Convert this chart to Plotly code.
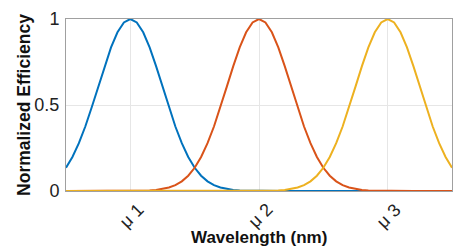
import plotly.graph_objects as go

# Wavelength grid (arbitrary units, peaks at mu1=1, mu2=2, mu3=3)
wavelength = [0.5, 0.55, 0.6, 0.65, 0.7, 0.75, 0.8, 0.85, 0.9, 0.95,
              1.0, 1.05, 1.1, 1.15, 1.2, 1.25, 1.3, 1.35, 1.4, 1.45,
              1.5, 1.55, 1.6, 1.65, 1.7, 1.75, 1.8, 1.85, 1.9, 1.95,
              2.0, 2.05, 2.1, 2.15, 2.2, 2.25, 2.3, 2.35, 2.4, 2.45,
              2.5, 2.55, 2.6, 2.65, 2.7, 2.75, 2.8, 2.85, 2.9, 2.95,
              3.0, 3.05, 3.1, 3.15, 3.2, 3.25, 3.3, 3.35, 3.4, 3.45, 3.5]

eff_mu1 = [0.135, 0.198, 0.278, 0.375, 0.487, 0.607, 0.726, 0.835, 0.923, 0.980,
           1.000, 0.980, 0.923, 0.835, 0.726, 0.607, 0.487, 0.375, 0.278, 0.198,
           0.135, 0.089, 0.056, 0.034, 0.020, 0.011, 0.006, 0.003, 0.002, 0.001,
           0, 0, 0, 0, 0, 0, 0, 0, 0, 0,
           0, 0, 0, 0, 0, 0, 0, 0, 0, 0,
           0, 0, 0, 0, 0, 0, 0, 0, 0, 0, 0]

eff_mu2 = [0, 0, 0, 0, 0, 0, 0, 0, 0, 0,
           0, 0.001, 0.002, 0.003, 0.006, 0.011, 0.020, 0.034, 0.056, 0.089,
           0.135, 0.198, 0.278, 0.375, 0.487, 0.607, 0.726, 0.835, 0.923, 0.980,
           1.000, 0.980, 0.923, 0.835, 0.726, 0.607, 0.487, 0.375, 0.278, 0.198,
           0.135, 0.089, 0.056, 0.034, 0.020, 0.011, 0.006, 0.003, 0.002, 0.001,
           0, 0, 0, 0, 0, 0, 0, 0, 0, 0, 0]

eff_mu3 = [0, 0, 0, 0, 0, 0, 0, 0, 0, 0,
           0, 0, 0, 0, 0, 0, 0, 0, 0, 0,
           0, 0, 0, 0, 0, 0, 0, 0, 0, 0,
           0, 0.001, 0.002, 0.003, 0.006, 0.011, 0.020, 0.034, 0.056, 0.089,
           0.135, 0.198, 0.278, 0.375, 0.487, 0.607, 0.726, 0.835, 0.923, 0.980,
           1.000, 0.980, 0.923, 0.835, 0.726, 0.607, 0.487, 0.375, 0.278, 0.198,
           0.135]

tick_vals = [1, 2, 3]
tick_text = ["\u03bc 1", "\u03bc 2", "\u03bc 3"]
y_ticks = [0, 0.5, 1]
y_text = ["0", "0.5", "1"]
x_title = "Wavelength (nm)"
y_title = "Normalized Efficiency"

colors = ["#0072BD", "#D95319", "#EDB120"]
series = [eff_mu1, eff_mu2, eff_mu3]

fig = go.Figure()
for ys, c in zip(series, colors):
    fig.add_trace(go.Scatter(x=wavelength, y=ys, mode="lines",
                             line=dict(color=c, width=2), cliponaxis=False,
                             showlegend=False))

font = "Liberation Sans, Arial, sans-serif"
fig.update_layout(
    width=474, height=247,
    margin=dict(l=66, r=22, t=19, b=56),
    paper_bgcolor="white", plot_bgcolor="white",
    font=dict(family=font, color="#222"),
)
fig.update_xaxes(
    range=[0.5, 3.5], tickvals=tick_vals, showticklabels=False,
    showgrid=True, gridcolor="#E6E6E6",
    gridwidth=1, showline=True, linecolor="#A0A0A0", linewidth=1, mirror=True,
    zeroline=False, ticks="", automargin=False,
)
fig.update_yaxes(
    range=[0, 1], tickvals=y_ticks, ticktext=y_text,
    tickfont=dict(size=18, color="#222"), showgrid=True, gridcolor="#E6E6E6",
    gridwidth=1, showline=True, linecolor="#A0A0A0", linewidth=1, mirror=True,
    zeroline=False, ticks="", ticklen=0, ticklabelstandoff=2, automargin=False,
)

# rotated x tick labels
for v, t in zip(tick_vals, tick_text):
    fig.add_annotation(x=v, y=-0.145, xref="x", yref="paper", text=t,
                       textangle=-45, showarrow=False, xanchor="center",
                       yanchor="middle", xshift=1,
                       font=dict(size=18, color="#222", family=font))

# axis titles
fig.add_annotation(x=0.5, y=-0.272, xref="paper", yref="paper",
                   text="<b>" + x_title + "</b>", showarrow=False,
                   xanchor="center", yanchor="middle",
                   font=dict(size=17, color="#111", family=font))
fig.add_annotation(x=-0.109, y=0.5, xref="paper", yref="paper",
                   text="<b>" + y_title + "</b>", showarrow=False, textangle=-90,
                   xanchor="center", yanchor="middle",
                   font=dict(size=17.5, color="#111", family=font))
fig.write_html("out.html")
